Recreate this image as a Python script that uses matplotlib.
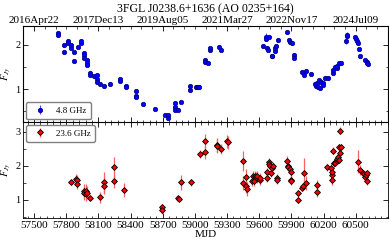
import matplotlib
matplotlib.use("Agg")
import matplotlib.pyplot as plt
from matplotlib.ticker import MultipleLocator
import numpy as np

plt.rcParams['font.family'] = ['Liberation Serif', 'DejaVu Serif']
plt.rcParams['mathtext.fontset'] = 'stix'
plt.rcParams['font.size'] = 8

# 4.8 GHz light curve
mjd_48 = [57721, 57721, 57783, 57783, 57814, 57814, 57845, 57845, 57876, 57876,
          57907, 57935, 57935, 57966, 57966, 57966, 57994, 57994, 57994, 58025,
          58025, 58056, 58087, 58087, 58087, 58118, 58152, 58211, 58301, 58301,
          58360, 58360, 58454, 58454, 58454, 58516, 58631, 58718, 58749, 58749,
          58814, 58814, 58814, 58845, 58867, 58957, 58957, 59010, 59019, 59028,
          59037, 59093, 59093, 59121, 59143, 59143, 59221, 59246, 59634, 59662,
          59662, 59674, 59680, 59693, 59715, 59724, 59746, 59752, 59761, 59771,
          59864, 59880, 59892, 59908, 59923, 59923, 59997, 60019, 60038, 60087,
          60122, 60131, 60143, 60153, 60162, 60171, 60180, 60193, 60199, 60215,
          60240, 60286, 60292, 60308, 60323, 60330, 60342, 60367, 60407, 60417,
          60423, 60497, 60507, 60516, 60519, 60528, 60541, 60591, 60603, 60609,
          60615]
flux_48 = [2.26, 2.23, 1.99, 1.84, 2.09, 2.05, 1.99, 1.93, 1.63, 1.84,
           1.95, 2.05, 2.08, 1.82, 1.77, 1.71, 1.65, 1.58, 1.55, 1.37,
           1.32, 1.29, 1.31, 1.23, 1.15, 1.11, 1.08, 1.12, 1.22, 1.18,
           1.07, 1.04, 0.96, 0.84, 0.83, 0.66, 0.56, 0.41, 0.41, 0.36,
           0.69, 0.59, 0.54, 0.53, 0.71, 1.07, 0.98, 1.05, 1.04, 1.04,
           1.05, 1.65, 1.61, 1.59, 1.89, 1.92, 1.96, 1.89, 1.98, 2.18,
           2.12, 1.93, 1.89, 2.17, 1.74, 1.75, 1.86, 1.92, 1.97, 2.11,
           2.28, 2.11, 2.07, 2.03, 1.77, 1.71, 1.39, 1.32, 1.41, 1.35,
           1.11, 1.07, 1.14, 1.04, 1.20, 1.02, 1.17, 1.13, 1.09, 1.26,
           1.24, 1.37, 1.43, 1.50, 1.47, 1.53, 1.59, 1.58, 2.08, 2.20,
           2.23, 2.17, 2.12, 2.08, 2.03, 1.90, 1.74, 1.65, 1.62, 1.58,
           1.56]
err_48 = [0.05, 0.04, 0.03, 0.03, 0.03, 0.03, 0.03, 0.03, 0.03, 0.03,
          0.03, 0.04, 0.04, 0.03, 0.03, 0.03, 0.03, 0.03, 0.03, 0.03,
          0.03, 0.03, 0.03, 0.03, 0.03, 0.03, 0.03, 0.03, 0.03, 0.03,
          0.03, 0.03, 0.03, 0.03, 0.03, 0.02, 0.02, 0.02, 0.02, 0.02,
          0.02, 0.02, 0.02, 0.02, 0.02, 0.03, 0.03, 0.03, 0.03, 0.03,
          0.03, 0.04, 0.03, 0.03, 0.03, 0.03, 0.03, 0.03, 0.03, 0.08,
          0.04, 0.04, 0.03, 0.04, 0.03, 0.03, 0.03, 0.03, 0.03, 0.04,
          0.04, 0.04, 0.04, 0.03, 0.04, 0.03, 0.03, 0.03, 0.03, 0.03,
          0.03, 0.03, 0.03, 0.03, 0.04, 0.03, 0.05, 0.03, 0.03, 0.03,
          0.03, 0.03, 0.03, 0.04, 0.03, 0.03, 0.03, 0.03, 0.07, 0.05,
          0.05, 0.05, 0.04, 0.04, 0.04, 0.03, 0.03, 0.04, 0.03, 0.03,
          0.03]

# 23.6 GHz light curve
mjd_236 = [57845, 57894, 57904, 57904, 57963, 57969, 57981, 57988, 57994, 58025,
           58118, 58152, 58152, 58242, 58242, 58336, 58693, 58693, 58842, 58848,
           58867, 58960, 59044, 59090, 59090, 59205, 59211, 59242, 59298, 59305,
           59448, 59448, 59476, 59479, 59482, 59534, 59541, 59547, 59562, 59572,
           59578, 59584, 59603, 59609, 59671, 59671, 59690, 59696, 59702, 59711,
           59724, 59727, 59764, 59764, 59864, 59867, 59873, 59886, 59896, 59896,
           59896, 59960, 59960, 60003, 60012, 60021, 60037, 60137, 60137, 60230,
           60270, 60277, 60277, 60277, 60292, 60301, 60308, 60323, 60330, 60339,
           60348, 60354, 60345, 60360, 60354, 60525, 60541, 60572, 60581, 60588,
           60597, 60603, 60609]
flux_236 = [1.51, 1.60, 1.57, 1.47, 1.25, 1.20, 1.27, 1.16, 1.21, 1.05,
            1.07, 1.51, 1.41, 1.95, 1.54, 1.29, 0.78, 0.69, 1.05, 1.02,
            1.52, 1.51, 2.34, 2.73, 2.39, 2.61, 2.57, 2.50, 2.71, 2.68,
            2.14, 1.49, 1.66, 1.39, 1.32, 1.56, 1.70, 1.54, 1.70, 1.66,
            1.63, 1.70, 1.59, 1.64, 1.80, 1.63, 2.10, 2.05, 1.98, 1.78,
            1.93, 2.00, 1.63, 1.59, 2.15, 2.00, 1.95, 1.90, 1.80, 1.59,
            1.56, 1.19, 1.00, 1.34, 1.39, 1.78, 1.49, 1.44, 1.24, 1.95,
            1.93, 1.73, 1.59, 1.80, 2.44, 2.07, 2.09, 2.15, 2.20, 2.25,
            2.17, 2.37, 2.54, 2.55, 3.02, 2.12, 1.88, 1.78, 1.75, 1.68,
            1.73, 1.78, 1.54]
err_236 = [0.05, 0.15, 0.15, 0.15, 0.2, 0.2, 0.2, 0.2, 0.2, 0.06,
           0.15, 0.3, 0.25, 0.3, 0.2, 0.2, 0.1, 0.1, 0.05, 0.05,
           0.22, 0.1, 0.12, 0.2, 0.2, 0.2, 0.2, 0.15, 0.2, 0.2,
           0.3, 0.2, 0.25, 0.2, 0.2, 0.15, 0.15, 0.15, 0.15, 0.15,
           0.15, 0.15, 0.15, 0.15, 0.12, 0.12, 0.12, 0.12, 0.12, 0.12,
           0.12, 0.12, 0.12, 0.12, 0.12, 0.12, 0.12, 0.12, 0.12, 0.12,
           0.12, 0.1, 0.08, 0.08, 0.08, 0.45, 0.2, 0.15, 0.15, 0.1,
           0.15, 0.15, 0.15, 0.15, 0.1, 0.1, 0.1, 0.1, 0.1, 0.1,
           0.1, 0.1, 0.1, 0.1, 0.1, 0.33, 0.15, 0.1, 0.1, 0.1,
           0.1, 0.1, 0.1]

mjd_ticks = list(range(57500, 60501, 300))
date_ticks = [57500, 58100, 58700, 59300, 59900, 60500]
date_labels = ["2016Apr22", "2017Dec13", "2019Aug05", "2021Mar27", "2022Nov17", "2024Jul09"]

fig = plt.figure(figsize=(3.89, 2.46), dpi=100)
ax1 = fig.add_axes([0.06, 0.504, 0.937, 0.39])
ax2 = fig.add_axes([0.06, 0.113, 0.937, 0.391], sharex=ax1)

ax1.errorbar(mjd_48, flux_48, yerr=err_48, fmt='o', ms=3.2, mfc='blue', mec='navy',
             mew=0.5, ecolor='#4a4aff', elinewidth=0.8, capsize=0, label='4.8 GHz')
ax2.errorbar(mjd_236, flux_236, yerr=err_236, fmt='D', ms=3.0, mfc='red', mec='black',
             mew=0.6, ecolor='#ff6060', elinewidth=0.9, capsize=0, label='23.6 GHz')

ax1.set_xlim(57400, 60800)
ax1.set_ylim(0.26, 2.42)
ax2.set_ylim(0.46, 3.28)

for ax in (ax1, ax2):
    ax.yaxis.set_major_locator(MultipleLocator(1))
    ax.yaxis.set_minor_locator(MultipleLocator(0.5))
    ax.set_xticks(mjd_ticks)
    ax.xaxis.set_minor_locator(MultipleLocator(60, offset=20))
    ax.tick_params(which='both', direction='in', right=True, labelsize=8)
    ax.tick_params(which='major', length=3.5, width=0.6)
    ax.tick_params(which='minor', length=1.8, width=0.5)
    ax.tick_params(axis='y', pad=2, labelsize=7.5)
    ax.set_ylabel(r'$F_{Jy}$', fontsize=7.5)
    ax.yaxis.set_label_coords(-0.027, 0.5)
    for s in ax.spines.values():
        s.set_linewidth(0.6)

ax2.tick_params(which='both', top=True)
ax1.tick_params(labelbottom=False)
ax2.set_xlabel('MJD', fontsize=8, labelpad=0)
ax2.tick_params(axis='x', pad=2)

# dates on top of the upper panel
top = ax1.twiny()
top.set_xlim(ax1.get_xlim())
top.set_xticks(date_ticks)
top.set_xticklabels(date_labels)
top.xaxis.set_minor_locator(MultipleLocator(100))
top.tick_params(which='both', direction='in', labelsize=8, pad=1)
top.tick_params(which='major', length=3.5, width=0.6)
top.tick_params(which='minor', length=1.8, width=0.5)
top.set_title('3FGL J0238.6+1636 (AO 0235+164)', fontsize=8.5, pad=1)

ax1.legend(loc='lower left', fontsize=6.5, handlelength=2.0, borderpad=0.5,
           fancybox=True, framealpha=1, edgecolor='gray', borderaxespad=0.3)
ax2.legend(loc='upper left', fontsize=6.5, handlelength=2.0, borderpad=0.5,
           fancybox=True, framealpha=1, edgecolor='gray', borderaxespad=0.3)

fig.savefig('out.png', dpi=100)
